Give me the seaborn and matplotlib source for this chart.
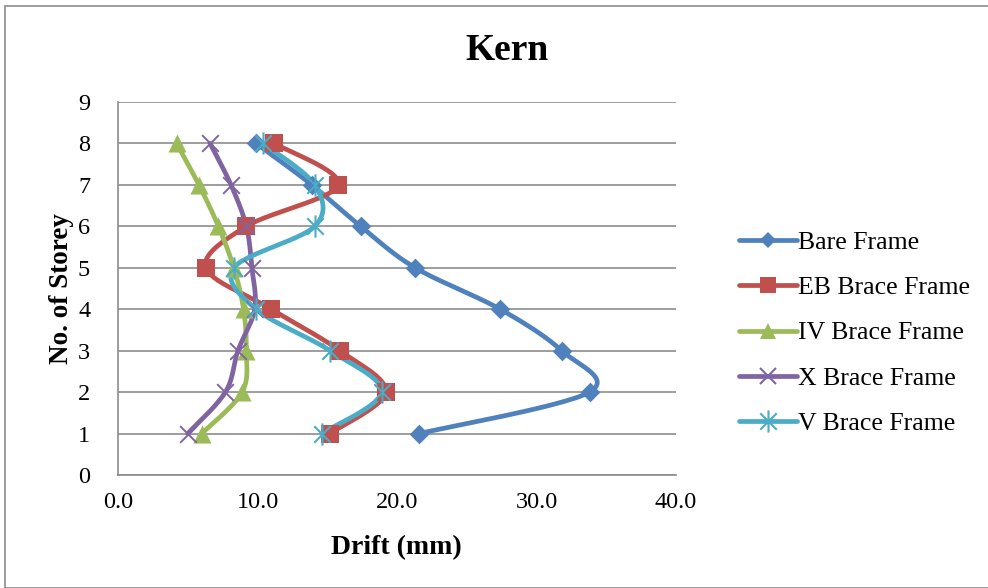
import numpy as np
import pandas as pd
import matplotlib
matplotlib.use("Agg")
import matplotlib.pyplot as plt
import seaborn as sns
from matplotlib.lines import Line2D
from matplotlib.path import Path
from matplotlib.patches import Rectangle

storeys = [1, 2, 3, 4, 5, 6, 7, 8]
bare_frame = [21.6, 33.8, 31.8, 27.4, 21.3, 17.4, 13.9, 9.9]
eb_brace = [15.2, 19.2, 15.9, 11.0, 6.3, 9.2, 15.8, 11.2]
iv_brace = [6.0, 8.9, 9.2, 9.0, 8.3, 7.2, 5.8, 4.2]
x_brace = [5.0, 7.7, 8.6, 9.8, 9.6, 9.2, 8.1, 6.6]
v_brace = [14.6, 18.9, 15.2, 9.9, 8.3, 14.1, 14.1, 10.4]
series_names = ["Bare Frame", "EB Brace Frame", "IV Brace Frame", "X Brace Frame", "V Brace Frame"]
x_ticks = [0.0, 10.0, 20.0, 30.0, 40.0]
y_ticks = [0, 1, 2, 3, 4, 5, 6, 7, 8, 9]

series = [bare_frame, eb_brace, iv_brace, x_brace, v_brace]
colors = ["#4F81BD", "#C0504D", "#9BBB59", "#8064A2", "#4BACC6"]

star = Path(
    [(-1, -1), (1, 1), (-1, 1), (1, -1), (0, -1.35), (0, 1.35)],
    [Path.MOVETO, Path.LINETO, Path.MOVETO, Path.LINETO, Path.MOVETO, Path.LINETO],
)
markers = ["D", "s", "^", "x", star]
msizes = [10, 13, 13, 12, 16]
LW = 3.4


def smooth(xs, ys, n=30):
    # Catmull-Rom (Excel-like smoothed line) through the points
    P = np.column_stack([xs, ys]).astype(float)
    P = np.vstack([P[0], P, P[-1]])
    out = []
    for i in range(1, len(P) - 2):
        p0, p1, p2, p3 = P[i - 1], P[i], P[i + 1], P[i + 2]
        c1 = p1 + (p2 - p0) / 6.0
        c2 = p2 - (p3 - p1) / 6.0
        t = np.linspace(0, 1, n)[:, None]
        b = ((1 - t) ** 3) * p1 + 3 * ((1 - t) ** 2) * t * c1 + 3 * (1 - t) * t ** 2 * c2 + t ** 3 * p2
        out.append(b if i == 1 else b[1:])
    return np.vstack(out)


sns.set_theme(style="white")
plt.rcParams["font.family"] = ["Liberation Serif", "DejaVu Serif"]

fig = plt.figure(figsize=(9.88, 5.88), dpi=100)
fig.patch.set_facecolor("white")
fig.patches.append(Rectangle((5 / 988, 0), 1.2, 1 - 6 / 588, transform=fig.transFigure,
                             fill=False, edgecolor="#8C8C8C", linewidth=1.2))
ax = fig.add_axes([118 / 988, 1 - 475 / 588, (676 - 118) / 988, (475 - 102) / 588])

for name, vals, col, mk, ms in zip(series_names, series, colors, markers, msizes):
    curve = smooth(vals, storeys)
    df = pd.DataFrame({"x": curve[:, 0], "y": curve[:, 1]})
    sns.lineplot(data=df, x="x", y="y", sort=False, estimator=None, color=col,
                 linewidth=LW, ax=ax, zorder=2, solid_capstyle="round", solid_joinstyle="round")
    pts = pd.DataFrame({"x": vals, "y": storeys})
    if mk == "x":
        sns.scatterplot(data=pts, x="x", y="y", marker=mk, s=ms ** 2,
                        color=col, linewidth=1.4, ax=ax, zorder=3)
    elif isinstance(mk, Path):
        sns.scatterplot(data=pts, x="x", y="y", marker=mk, s=ms ** 2,
                        color=col, edgecolor=col, linewidth=1.5, ax=ax, zorder=3)
    else:
        sns.scatterplot(data=pts, x="x", y="y", marker=mk, s=ms ** 2, color=col,
                        edgecolor=col, linewidth=0, ax=ax, zorder=3)

ax.set_xlim(0, 40)
ax.set_ylim(0, 9)
ax.set_xticks(x_ticks)
ax.set_xticklabels([f"{v:.1f}" for v in x_ticks])
ax.set_yticks(y_ticks)
ax.tick_params(axis="both", labelsize=17.5, length=0, colors="black")
ax.tick_params(axis="x", pad=12)
ax.tick_params(axis="y", pad=20)
ax.yaxis.grid(True, color="#8C8C8C", linewidth=1.2)
ax.xaxis.grid(False)
for s in ["top", "right"]:
    ax.spines[s].set_visible(False)
for s in ["left", "bottom"]:
    ax.spines[s].set_color("#8C8C8C")
    ax.spines[s].set_linewidth(1.2)
ax.set_axisbelow(True)

ax.set_xlabel("")
ax.set_ylabel("")
fig.text(396 / 988, 1 - 548 / 588, "Drift (mm)", ha="center", va="center", fontsize=20,
         fontweight="bold", color="black")
fig.text(62 / 988, 1 - 289 / 588, "No. of Storey", ha="center", va="center", fontsize=19.5,
         fontweight="bold", rotation=90, color="black")
fig.text(507 / 988, 1 - 50 / 588, "Kern", ha="center", va="center", fontsize=27,
         fontweight="bold", color="black")

handles = []
for name, col, mk, ms in zip(series_names, colors, markers, msizes):
    if mk == "x" or isinstance(mk, Path):
        h = Line2D([], [], color=col, linewidth=LW, marker=mk, markersize=ms,
                   markeredgewidth=1.5, markeredgecolor=col, solid_capstyle="round")
    else:
        h = Line2D([], [], color=col, linewidth=LW, marker=mk, markersize=ms * 0.85,
                   markerfacecolor=col, markeredgewidth=0, solid_capstyle="round")
    handles.append(h)
fig.legend(handles, series_names, loc="center left", bbox_to_anchor=(739 / 988, 1 - 333 / 588),
           frameon=False, fontsize=18.5, handlelength=2.25, handletextpad=0.05,
           labelspacing=0.86, borderaxespad=0, borderpad=0, labelcolor="black")

fig.savefig("out.png", dpi=100)
